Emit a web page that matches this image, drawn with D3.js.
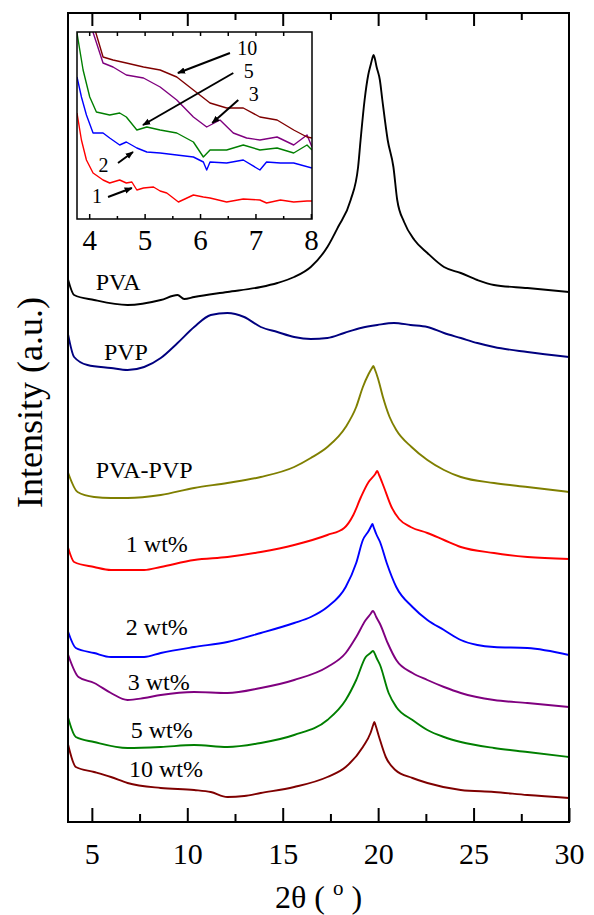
<!DOCTYPE html>
<html><head><meta charset="utf-8">
<script src="https://cdn.jsdelivr.net/npm/d3@7"></script>
<style>
body{margin:0;background:#fff}
svg{display:block}
text{font-family:"Liberation Serif","Times New Roman",serif;fill:#000}
</style>
</head><body>
<svg id="chart" width="594" height="915"></svg>
<script>
// ---- main pattern data: [2theta (deg), intensity (a.u., offset stacked)] ----
const pva = [[3.76,542],[4.07,527],[5.12,522],[6.87,517],[8.61,522],[9.49,527],[9.84,523],[10.36,525],[12.1,530],[13.85,535],[14.72,539],[15.6,545],[16.47,555],[17.34,575],[17.9,595],[18.56,622],[18.95,655],[19.08,682],[19.29,722],[19.48,747],[19.62,758],[19.7,764],[19.76,767],[19.82,764],[19.92,755],[20.09,742],[20.22,722],[20.5,682],[20.8,655],[21.0,622],[21.36,600],[21.9,582],[22.58,569],[23.45,555],[24.33,549],[25.2,542],[26.07,537],[27.82,534],[30,530]];
const pvp = [[3.76,487],[4.07,465],[4.77,457],[6.0,454],[6.87,452],[7.74,455],[8.61,464],[9.49,479],[10.36,495],[11.23,507],[12.1,509],[12.98,505],[13.85,495],[14.72,490],[15.6,485],[16.47,483],[17.34,484],[18.22,489],[19.09,494],[19.96,497],[20.83,499],[21.7,497],[22.58,495],[23.45,489],[24.33,484],[25.2,479],[26.07,475],[27.82,470],[30,465]];
const pvaPvp = [[3.76,349],[4.25,330],[5.12,325],[6.0,324],[6.87,324],[8.61,327],[10.36,334],[12.1,339],[13.85,345],[15.6,355],[16.47,364],[17.34,375],[18.3,395],[18.85,415],[19.2,435],[19.5,448],[19.68,454],[19.75,456],[19.82,453],[20.0,443],[20.25,425],[20.6,405],[20.95,392],[21.75,375],[22.58,362],[23.45,352],[24.33,345],[26.07,339],[27.82,335],[30,330]];
const wt1 = [[3.76,274],[4.07,260],[5.12,255],[6.0,252],[7.74,252],[8.61,255],[10.36,262],[12.1,265],[13.85,270],[15.6,277],[17.34,287],[18.22,294],[18.7,307],[19.1,325],[19.5,340],[19.85,348],[19.95,351],[20.05,347],[20.3,335],[20.7,315],[21.1,303],[21.7,295],[22.58,289],[23.45,282],[24.33,275],[26.07,269],[27.82,265],[30,263]];
const wt2 = [[3.76,190],[4.16,174],[5.12,169],[6.0,165],[7.74,165],[8.61,169],[10.36,175],[12.1,180],[13.85,189],[15.6,199],[16.47,205],[17.34,215],[18.3,235],[18.85,259],[19.2,282],[19.5,291],[19.64,296],[19.7,298],[19.76,295],[19.9,288],[20.1,280],[20.45,259],[20.95,235],[21.8,215],[22.58,202],[23.45,192],[24.33,182],[25.2,177],[26.07,175],[27.82,174],[30,167]];
const wt3 = [[3.76,167],[4.3,145],[5.12,139],[6.0,129],[6.87,122],[7.74,124],[8.61,127],[10.36,130],[12.1,129],[13.85,134],[15.6,142],[17.34,155],[18.3,169],[18.85,185],[19.35,202],[19.6,208],[19.72,211],[19.78,210],[19.9,205],[20.1,198],[20.5,179],[20.95,162],[21.8,149],[22.58,142],[23.45,135],[24.33,129],[26.07,122],[27.82,119],[30,115]];
const wt5 = [[3.76,104],[4.16,85],[5.12,80],[6.87,74],[8.61,75],[10.36,77],[12.1,75],[13.85,79],[15.6,87],[17.34,102],[18.3,122],[18.85,142],[19.35,165],[19.6,169],[19.72,171],[19.78,170],[19.92,164],[20.1,157],[20.55,129],[20.95,115],[21.8,102],[22.58,92],[23.45,85],[24.33,80],[26.07,74],[27.82,70],[30,65]];
const wt10 = [[3.76,77],[4.16,55],[5.12,50],[6.0,45],[6.87,39],[8.61,34],[10.36,32],[11.23,30],[12.1,25],[12.98,26],[13.85,29],[15.6,35],[17.34,45],[18.3,55],[19.2,75],[19.6,89],[19.74,97],[19.8,100],[19.86,97],[20.05,85],[20.4,65],[20.9,52],[21.8,44],[22.58,39],[24.33,32],[26.07,30],[27.82,27],[30,24]];

const seriesNames = ["PVA","PVP","PVA-PVP","1 wt%","2 wt%","3 wt%","5 wt%","10 wt%"];
const seriesColors = ["#000000","#00007f","#7f7f00","#ff0000","#0000ff","#7f007f","#007f00","#7f0000"];

// ---- inset (low-angle region) data ----
const in1 = [[3.78,106],[3.86,79],[3.95,59],[4.07,46],[4.25,39],[4.37,36],[4.55,39],[4.67,36],[4.77,37],[4.86,29],[4.98,31],[5.16,32],[5.28,28],[5.4,26],[5.61,17],[5.88,24],[6.06,22],[6.18,21],[6.48,17],[6.78,20],[7.08,19],[7.2,16],[7.45,19],[7.69,17],[7.93,18],[8.02,18]];
const in2 = [[3.78,142],[3.86,122],[3.95,104],[4.07,86],[4.25,86],[4.37,81],[4.55,74],[4.67,77],[4.86,71],[5.04,67],[5.28,66],[5.58,64],[5.88,62],[6.06,57],[6.12,49],[6.18,57],[6.48,56],[6.78,59],[7.08,49],[7.2,57],[7.45,56],[7.69,56],[8.02,51]];
const in3 = [[4.05,190],[4.25,156],[4.43,152],[4.67,144],[4.98,141],[5.28,132],[5.58,119],[5.88,102],[6.12,92],[6.36,99],[6.6,86],[6.84,81],[7.08,79],[7.39,82],[7.69,74],[7.93,84],[8.02,72]];
const in5 = [[3.78,186],[3.89,149],[4.01,122],[4.13,107],[4.37,104],[4.55,106],[4.67,102],[4.86,89],[5.04,92],[5.28,89],[5.58,86],[5.88,77],[6.06,62],[6.18,69],[6.48,69],[6.78,74],[7.08,69],[7.39,71],[7.69,66],[7.93,74],[8.02,69]];
const in10 = [[4.1,190],[4.25,162],[4.43,159],[4.67,156],[4.98,152],[5.28,149],[5.58,142],[5.88,129],[6.18,116],[6.48,111],[6.78,111],[7.08,102],[7.39,99],[7.69,89],[7.93,82],[8.02,81]];
const insetNames = ["1","2","3","5","10"];
const insetColors = ["#ff0000","#0000ff","#7f007f","#007f00","#7f0000"];

const mainTicks = [5,10,15,20,25,30];
const mainMinor = [7.5,12.5,17.5,22.5,27.5];
const insetTicks = [4,5,6,7,8];
const insetMinor = [4.5,5.5,6.5,7.5];

// ---- drawing ----
const svg = d3.select("#chart");
const M = {l:68, r:569, t:13, b:822};
const x = d3.scaleLinear().domain([3.75,30]).range([M.l,M.r]);
const y = d3.scaleLinear().domain([0,809]).range([M.b,M.t]);
const defs = svg.append("defs");
defs.append("clipPath").attr("id","mainClip")
  .append("rect").attr("x",M.l).attr("y",M.t).attr("width",M.r-M.l).attr("height",M.b-M.t);

const mainSeries = [pva,pvp,pvaPvp,wt1,wt2,wt3,wt5,wt10];
const line = d3.line().x(d=>x(d[0])).y(d=>y(d[1])).curve(d3.curveMonotoneX);
const gLines = svg.append("g").attr("clip-path","url(#mainClip)");
mainSeries.forEach((s,i)=>{
  gLines.append("path").datum(s).attr("d",line)
    .attr("fill","none").attr("stroke",seriesColors[i]).attr("stroke-width",1.9)
    .attr("stroke-linejoin","round");
});

function styleAxis(g,w){
  g.select(".domain").remove();
  g.selectAll("line").attr("stroke","#000").attr("stroke-width",w);
  g.attr("font-family",null);
}
const axB = svg.append("g").attr("transform",`translate(0,${M.b})`)
  .call(d3.axisBottom(x).tickValues(mainTicks).tickSize(-14).tickPadding(21).tickFormat(d3.format("d")));
styleAxis(axB,2);
axB.attr("font-size",null);
axB.selectAll("text").attr("font-size",30);
const axBm = svg.append("g").attr("transform",`translate(0,${M.b})`)
  .call(d3.axisBottom(x).tickValues(mainMinor).tickSize(-8).tickFormat(""));
styleAxis(axBm,2);
const axT = svg.append("g").attr("transform",`translate(0,${M.t})`)
  .call(d3.axisTop(x).tickValues(mainTicks.filter(v=>v<30)).tickSize(-13).tickFormat(""));
styleAxis(axT,2);
const axTm = svg.append("g").attr("transform",`translate(0,${M.t})`)
  .call(d3.axisTop(x).tickValues(mainMinor).tickSize(-7).tickFormat(""));
styleAxis(axTm,2);

svg.append("rect").attr("x",M.l).attr("y",M.t).attr("width",M.r-M.l).attr("height",M.b-M.t)
  .attr("fill","none").attr("stroke","#000").attr("stroke-width",2);

// series labels (placed in data coordinates)
const labelPos = [[5.2,532],[5.63,462],[5.2,344],[6.78,270],[6.78,187],[6.88,132],[7.04,84],[6.94,45]];
seriesNames.forEach((n,i)=>{
  svg.append("text").attr("x",x(labelPos[i][0])).attr("y",y(labelPos[i][1]))
    .attr("font-size",24).text(n);
});

// axis titles
const xt = svg.append("text").attr("x",(M.l+M.r)/2).attr("y",908).attr("text-anchor","middle").attr("font-size",32);
xt.append("tspan").text("2θ ( ");
xt.append("tspan").attr("font-size",21).attr("dy",-13).text("o");
xt.append("tspan").attr("dy",13).text(" )");
svg.append("text").attr("transform",`translate(42,${(M.t+M.b)/2 - 15}) rotate(-90)`)
  .attr("text-anchor","middle").attr("font-size",36).text("Intensity (a.u.)");

// ---- inset ----
const I = {l:77, r:312, t:32, b:219};
const xi = d3.scaleLinear().domain([3.78,8.02]).range([I.l,I.r]);
const yi = d3.scaleLinear().domain([0,187]).range([I.b,I.t]);
svg.append("rect").attr("x",I.l).attr("y",I.t).attr("width",I.r-I.l).attr("height",I.b-I.t).attr("fill","#fff");
defs.append("clipPath").attr("id","inClip")
  .append("rect").attr("x",I.l).attr("y",I.t).attr("width",I.r-I.l).attr("height",I.b-I.t);
const lineI = d3.line().x(d=>xi(d[0])).y(d=>yi(d[1]));
const gIn = svg.append("g").attr("clip-path","url(#inClip)");
[in1,in2,in3,in5,in10].forEach((s,i)=>{
  gIn.append("path").datum(s).attr("d",lineI).attr("fill","none")
    .attr("stroke",insetColors[i]).attr("stroke-width",1.4).attr("stroke-linejoin","round");
});
const iB = svg.append("g").attr("transform",`translate(0,${I.b})`)
  .call(d3.axisBottom(xi).tickValues(insetTicks).tickSize(-5).tickPadding(10).tickFormat(d3.format("d")));
styleAxis(iB,1.5);
iB.attr("font-size",null);
iB.selectAll("text").attr("font-size",29);
const iBm = svg.append("g").attr("transform",`translate(0,${I.b})`)
  .call(d3.axisBottom(xi).tickValues(insetMinor).tickSize(-3).tickFormat(""));
styleAxis(iBm,1.5);
const iT = svg.append("g").attr("transform",`translate(0,${I.t})`)
  .call(d3.axisTop(xi).tickValues(insetTicks.concat(insetMinor).filter(v=>v<8)).tickSize(-4).tickFormat(""));
styleAxis(iT,1.5);
svg.append("rect").attr("x",I.l).attr("y",I.t).attr("width",I.r-I.l).attr("height",I.b-I.t)
  .attr("fill","none").attr("stroke","#000").attr("stroke-width",1.5);

// inset annotations: label, label anchor, arrow start, arrow end (inset data units)
const notes = [
  ["10",[6.85,164],[6.54,166],[5.6,146]],
  ["5",[6.88,141],[6.6,146],[4.97,94]],
  ["3",[6.97,118],[6.69,119],[6.22,96]],
  ["2",[4.26,47],[4.52,56],[4.79,67]],
  ["1",[4.14,16],[4.34,22],[4.77,31]]
];
defs.append("marker").attr("id","ah").attr("viewBox","0 0 10 10")
  .attr("refX",9).attr("refY",5).attr("markerWidth",4).attr("markerHeight",4).attr("orient","auto")
  .append("path").attr("d","M0,1L10,5L0,9Z").attr("fill","#000");
notes.forEach(n=>{
  svg.append("text").attr("x",xi(n[1][0])).attr("y",yi(n[1][1])).attr("text-anchor","middle")
    .attr("font-size",20).text(n[0]);
  svg.append("line").attr("x1",xi(n[2][0])).attr("y1",yi(n[2][1])).attr("x2",xi(n[3][0])).attr("y2",yi(n[3][1]))
    .attr("stroke","#000").attr("stroke-width",2).attr("marker-end","url(#ah)");
});
</script>
</body></html>
